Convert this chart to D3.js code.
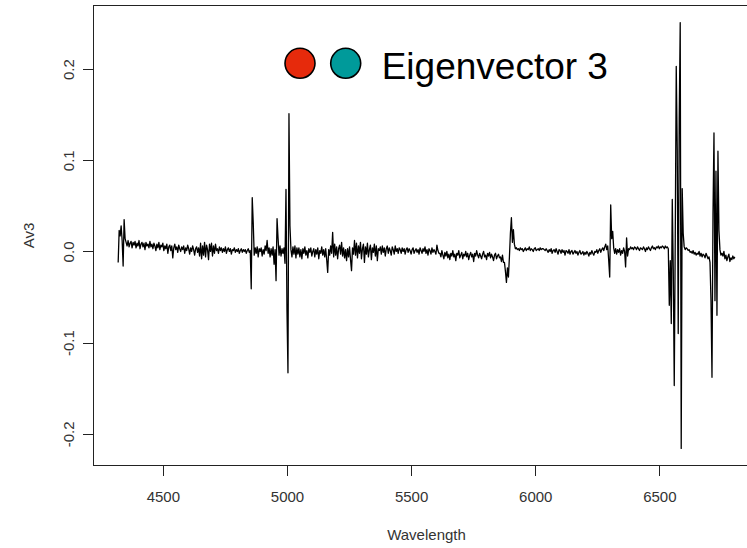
<!DOCTYPE html>
<html>
<head>
<meta charset="utf-8">
<script src="https://cdn.jsdelivr.net/npm/d3@7"></script>
<style>
  html, body { margin: 0; padding: 0; background: #fff; }
  svg { display: block; font-family: "Liberation Sans", Arial, sans-serif; }
</style>
</head>
<body>
<svg id="chart" width="747" height="548"></svg>
<script>
// Eigenvector 3 spectrum, sampled every 4 Å, split into wavelength regions.
const STEP = 4;

const edge4320 = [-0.012, 0.023, 0.017, 0.028, 0.012, -0.016, 0.035, 0.014, 0.010, 0.006, 0.012, 0.005, 0.009, 0.011, 0.004, 0.010];

const blueCont = [
  0.007, 0.011, 0.004, 0.009, 0.006, 0.012, 0.003, 0.008, 0.010, 0.005, 0.009, 0.002, 0.010, 0.006, 0.008, 0.004,
  0.011, 0.005, 0.008, 0.003, 0.009, 0.006, 0.001, 0.008, 0.004, 0.010, 0.002, 0.007, 0.005, 0.009, 0.001, 0.006,
  0.003, 0.008, -0.002, 0.005, 0.007, 0.001, 0.006, -0.007, 0.004, 0.008, 0.002, 0.005, -0.001, 0.007, 0.003, 0.000,
  0.005, 0.002, 0.006, -0.002, 0.004, 0.001, 0.007, 0.003, -0.003, 0.004, 0.000, 0.006, 0.002, -0.004, 0.003, 0.005,
  -0.001, 0.004, -0.005,
  0.009, -0.008, 0.006, -0.004, 0.010, -0.006, 0.007, 0.002, -0.009, 0.008, 0.000, 0.009, -0.005, 0.006, -0.002, 0.008, 0.001,
  0.003, -0.002, 0.005, 0.001, 0.004, -0.001, 0.003, 0.000, 0.005, -0.002, 0.002, 0.004,
  0.000, 0.003, -0.003, 0.002, 0.001, 0.004, -0.001, 0.002, 0.000, 0.003, -0.002, 0.001, 0.003, -0.001, 0.002, 0.000,
  0.002, -0.002, 0.001, 0.003, -0.001
];

const hbetaOIII = [
  0.001, -0.041, 0.059, 0.032, -0.004, 0.004, -0.002, 0.005, -0.006, 0.003, 0.000, 0.004, -0.005, 0.002, -0.003, 0.006,
  0.001, 0.012, -0.002, 0.004, -0.006, 0.003, -0.004, 0.005, -0.014, 0.002, -0.032, 0.036, 0.015, -0.004, 0.006, -0.005,
  0.003, -0.002, 0.004, -0.013, 0.068, -0.065, -0.133, 0.151, 0.028, 0.002, -0.006, 0.005, -0.003, 0.006, -0.007, 0.004
];

const greenCont = [
  -0.003, 0.004, -0.006, 0.002, -0.008, 0.003, -0.002, 0.005, -0.004, 0.001, -0.007, 0.003, -0.001, 0.004, -0.005, 0.000,
  0.003, -0.006, 0.002, -0.003, 0.004, -0.008, 0.001, -0.002, 0.005, -0.004, 0.002, -0.006, 0.003, -0.009,
  -0.023,
  0.002, -0.004, 0.006, -0.002,
  0.021,
  -0.006, 0.008, -0.004, 0.005, -0.008, 0.003, 0.007, -0.003, 0.010, -0.005, 0.004, -0.007, 0.002,
  -0.010, 0.003, -0.006, 0.005, -0.009,
  -0.021,
  0.004, -0.003,
  0.012,
  -0.004, 0.009, -0.007, 0.006, -0.002, 0.010, -0.008, 0.003, 0.008, -0.012, 0.005, -0.003, 0.009, -0.006, 0.002, 0.007,
  -0.009, 0.004, -0.001, 0.008, -0.005, 0.006, -0.010, 0.003, 0.001,
  0.005, -0.003, 0.006, -0.001, 0.004, -0.005, 0.003, 0.006, -0.002, 0.004, 0.001, -0.004, 0.005, 0.002, -0.003, 0.006,
  0.000, 0.003, -0.002, 0.004,
  0.002, -0.002, 0.004, 0.000, 0.003, -0.003, 0.002, 0.004, -0.001, 0.003, 0.001, -0.003, 0.002, 0.004, -0.002, 0.001,
  0.003, -0.001, 0.002, -0.003, 0.004, 0.001, -0.002, 0.003, 0.000, 0.005, -0.002, 0.002, -0.004, 0.003, 0.001, -0.003,
  0.004, -0.001, 0.002, 0.000, -0.003, 0.007, 0.001, -0.002,
  -0.002, -0.006, 0.001, -0.004, -0.008, -0.001, -0.005, 0.000, -0.007, -0.003, -0.009, -0.002, -0.005, 0.001, -0.006, -0.003,
  -0.010, -0.002, -0.004, 0.001, -0.007, -0.004, -0.001, -0.008, -0.003, -0.005, 0.000, -0.006, -0.002, -0.009, -0.004, -0.001,
  -0.006, -0.003, -0.011, -0.002, -0.005, 0.001, -0.004, -0.007, -0.002, -0.005, -0.008, -0.003, 0.000, -0.006, -0.004, -0.009,
  -0.002, -0.005, -0.001, -0.007, -0.003, -0.006, -0.010, -0.004, -0.002, -0.008, -0.005, -0.003, -0.007,
  -0.006, -0.011, -0.004, -0.012
];

const naD = [-0.012, -0.022, -0.034, -0.018, -0.028, -0.006, 0.020, 0.037, 0.010, 0.024, 0.008, 0.003];

const redCont = [
  0.004, 0.002, 0.003, 0.001, 0.004, 0.002, 0.003, 0.000, 0.002, 0.004, 0.001, 0.003, 0.002, 0.005, 0.001,
  0.003, 0.002, 0.000, 0.003, 0.004, 0.001, 0.002, 0.003, 0.001, 0.004, 0.002, 0.003, 0.003, 0.002, 0.001,
  0.003, 0.001, -0.001, 0.002, 0.000, 0.003, -0.002, 0.001, 0.002, -0.001, 0.003, 0.000, -0.003, 0.002, 0.001,
  -0.002, 0.002, -0.001, 0.001, -0.004, 0.001, 0.000, -0.002, 0.002, -0.003, 0.000, 0.001, -0.003, -0.001, 0.001,
  -0.002, 0.000, -0.004, -0.001, 0.001, -0.003, -0.002, 0.000, -0.004, -0.001, -0.003, 0.000, -0.002, -0.005, -0.001,
  -0.003, 0.001, -0.002, -0.004, 0.000, -0.001, 0.002, -0.002, 0.001, 0.003, -0.001, 0.002, 0.004, 0.001, 0.005
];

const oiLines = [
  0.008, 0.002, 0.006, -0.010, -0.028, 0.051, 0.014, 0.022, 0.004, -0.002, 0.003, -0.003, 0.002, -0.001, 0.003,
  -0.004, 0.001, -0.002, 0.004, 0.000, -0.017, 0.015, -0.005, 0.003, 0.002, 0.005, 0.003, 0.004, 0.002, 0.005
];

const preHalpha = [
  0.004, 0.002, 0.005, 0.003, 0.001, 0.004, 0.003, 0.002, 0.005, 0.003, 0.000, 0.004, 0.002, 0.005, 0.003, 0.001,
  0.004, 0.006, 0.003, 0.004, 0.002, 0.005, 0.004, 0.006, 0.003, 0.005, 0.004, 0.006, 0.005, 0.003, 0.006, 0.004, 0.005
];

const halphaNII = [
  0.003, -0.059, -0.010, -0.079, 0.057, -0.020, -0.147, 0.015, 0.203, 0.112, -0.090, 0.145, 0.251, -0.216, 0.069,
  0.020, 0.005, 0.002, 0.004
];

const postHalpha = [
  0.003, 0.001, 0.002, -0.001, 0.000, -0.002, 0.001, -0.003, -0.001, -0.004, -0.002, -0.003, 0.000, -0.005, -0.002,
  -0.006, -0.003, -0.004, -0.007, -0.002, -0.005, -0.008
];

const siiLines = [-0.006, -0.012, -0.054, -0.138, 0.040, 0.130, -0.054, 0.088, -0.070, 0.110, 0.023, 0.002, -0.004];

const redEnd = [-0.002, -0.005, 0.000, -0.008, -0.004, -0.010, -0.006, -0.003, -0.011, -0.007, -0.009, -0.005, -0.008, -0.006];

// [first wavelength (Å), samples]
const segments = [
  [4320, edge4320], [4384, blueCont], [4852, hbetaOIII], [5044, greenCont],
  [5876, naD], [5924, redCont], [6284, oiLines], [6404, preHalpha],
  [6536, halphaNII], [6612, postHalpha], [6700, siiLines], [6752, redEnd]
];

const xTicks = [4500, 5000, 5500, 6000, 6500];
const yTicks = [-0.2, -0.1, 0.0, 0.1, 0.2];
const xTitle = "Wavelength";
const yTitle = "Av3";
const legendLabel = "Eigenvector 3";
const legendColors = ["#e62a0c", "#009a9a"];

const spectrum = segments.flatMap(([start, vals]) =>
  vals.map((v, j) => ({ w: start + STEP * j, v })));

const svg = d3.select("#chart");
const plot = { left: 93.5, right: 759.5, top: 5.5, bottom: 465.5 };

// R-style 4% padding around the data range
const pad = ext => { const d = (ext[1] - ext[0]) * 0.04; return [ext[0] - d, ext[1] + d]; };

const x = d3.scaleLinear()
  .domain(pad(d3.extent(spectrum, d => d.w)))
  .range([plot.left, plot.right]);
const y = d3.scaleLinear()
  .domain(pad(d3.extent(spectrum, d => d.v)))
  .range([plot.bottom, plot.top]);

const axisColor = "#222";
const labelColor = "#333";
const fontSize = 15;

// spectrum trace
svg.append("path")
  .datum(spectrum)
  .attr("fill", "none")
  .attr("stroke", "#000")
  .attr("stroke-width", 1.3)
  .attr("stroke-linejoin", "round")
  .attr("d", d3.line().x(d => x(d.w)).y(d => y(d.v)));

// plot frame
svg.append("rect")
  .attr("x", plot.left).attr("y", plot.top)
  .attr("width", plot.right - plot.left)
  .attr("height", plot.bottom - plot.top)
  .attr("fill", "none")
  .attr("stroke", axisColor)
  .attr("stroke-width", 1)
  .attr("shape-rendering", "crispEdges");

// bottom axis
const gx = svg.append("g")
  .attr("transform", `translate(0,${plot.bottom})`)
  .call(d3.axisBottom(x).tickValues(xTicks).tickSize(10).tickFormat(d3.format("d")));
gx.select(".domain").remove();
gx.selectAll(".tick line").attr("stroke", axisColor).attr("shape-rendering", "crispEdges");
gx.selectAll(".tick text")
  .attr("y", 36.5).attr("dy", 0)
  .attr("fill", labelColor)
  .style("font-size", fontSize + "px")
  .style("font-family", "'Liberation Sans', Arial, sans-serif");

// left axis, labels written parallel to the axis
const gy = svg.append("g")
  .attr("transform", `translate(${plot.left},0)`)
  .call(d3.axisLeft(y).tickValues(yTicks).tickSize(11).tickFormat(d => d.toFixed(1)));
gy.select(".domain").remove();
gy.selectAll(".tick line").attr("stroke", axisColor).attr("shape-rendering", "crispEdges");
gy.selectAll(".tick text")
  .attr("x", 0).attr("y", -19.5).attr("dy", 0)
  .attr("transform", "rotate(-90)")
  .attr("text-anchor", "middle")
  .attr("fill", labelColor)
  .style("font-size", fontSize + "px")
  .style("font-family", "'Liberation Sans', Arial, sans-serif");

// axis titles
svg.append("text")
  .attr("x", (plot.left + plot.right) / 2)
  .attr("y", 539.5)
  .attr("text-anchor", "middle")
  .attr("fill", labelColor)
  .style("font-size", fontSize + "px")
  .text(xTitle);

svg.append("text")
  .attr("transform", `translate(33.5,${(plot.top + plot.bottom) / 2}) rotate(-90)`)
  .attr("text-anchor", "middle")
  .attr("fill", labelColor)
  .style("font-size", fontSize + "px")
  .text(yTitle);

// legend
const legend = svg.append("g").attr("transform", "translate(300,63.3)");
legend.selectAll("circle")
  .data(legendColors)
  .join("circle")
  .attr("cx", (d, i) => i * 45.7)
  .attr("cy", 0)
  .attr("r", 15)
  .attr("fill", d => d)
  .attr("stroke", "#000")
  .attr("stroke-width", 1.6);
legend.append("text")
  .attr("x", 81.7)
  .attr("y", 15.7)
  .attr("fill", "#000")
  .style("font-size", "37px")
  .text(legendLabel);
</script>
</body>
</html>
